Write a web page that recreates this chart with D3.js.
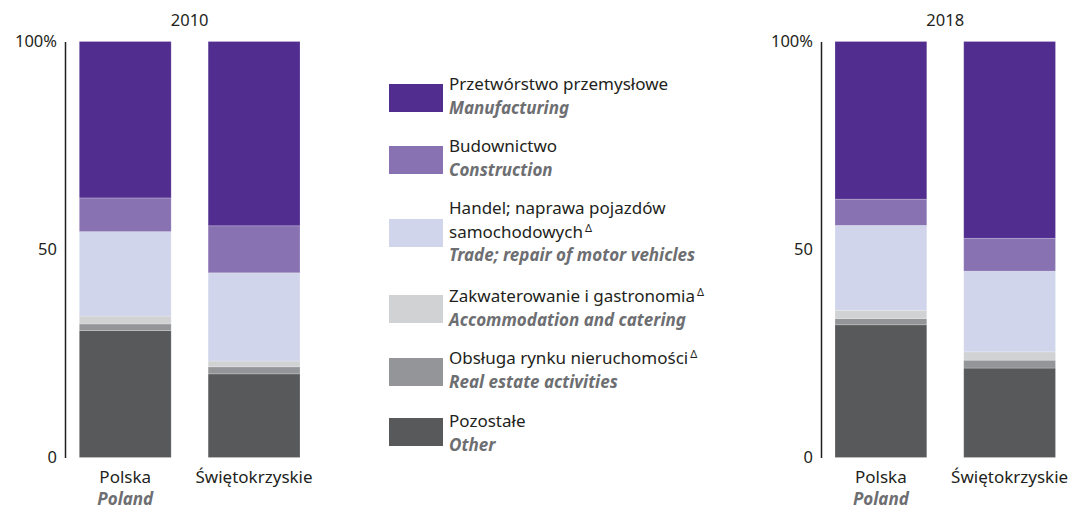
<!DOCTYPE html>
<html>
<head>
<meta charset="utf-8">
<script src="https://cdn.jsdelivr.net/npm/d3@7"></script>
<style>
  body { margin: 0; background: #fff; }
  text { font-family: "Noto Sans", sans-serif; }
</style>
</head>
<body>
<svg id="chart" width="1072" height="509"></svg>
<script>
// series keys, bottom to top
const keys = ["other", "realEstate", "accommodation", "trade", "construction", "manufacturing"];
const colors = ["#58595b", "#939598", "#d1d2d3", "#d0d5eb", "#8872b2", "#512d8f"];

const regions = ["Polska", "Świętokrzyskie"];
const regionsEn = ["Poland", ""];

// percentage shares
const other         = {2010: [30.5, 20.1], 2018: [31.9, 21.5]};
const realEstate    = {2010: [1.6, 1.7],   2018: [1.5, 1.9]};
const accommodation = {2010: [1.9, 1.4],   2018: [2.0, 2.0]};
const trade         = {2010: [20.3, 21.2], 2018: [20.4, 19.4]};
const construction  = {2010: [8.1, 11.3],  2018: [6.3, 7.9]};
const manufacturing = {2010: [37.6, 44.3], 2018: [37.9, 47.3]};
const years = [2010, 2018];

const yTicks = [0, 50, 100];

// legend, top to bottom
const legendPl = [
    ["Przetwórstwo przemysłowe"],
    ["Budownictwo"],
    ["Handel; naprawa pojazdów", "samochodowych"],
    ["Zakwaterowanie i gastronomia"],
    ["Obsługa rynku nieruchomości"],
    ["Pozostałe"]
];
const legendEn = ["Manufacturing", "Construction", "Trade; repair of motor vehicles",
    "Accommodation and catering", "Real estate activities", "Other"];
const legendDelta = [false, false, true, true, true, false];
const legendKeys = ["manufacturing", "construction", "trade", "accommodation", "realEstate", "other"];

const series = {other, realEstate, accommodation, trade, construction, manufacturing};

let svg = d3.select("#chart");

let y = d3.scaleLinear().domain([0, 100]).range([457.5, 41.5]);
let z = d3.scaleOrdinal().domain(keys).range(colors);

const panels = [
    {year: 2010, axisX: 65, x0: 79.3, x1: 300},
    {year: 2018, axisX: 821, x0: 835, x1: 1055.5}
];

panels.forEach(function (p) {
    let data = regions.map(function (r, i) {
        let row = {region: r, en: regionsEn[i]};
        keys.forEach(k => row[k] = series[k][p.year][i]);
        return row;
    });

    let x = d3.scaleBand()
        .domain(regions)
        .range([p.x0, p.x1])
        .paddingInner(0.287)
        .paddingOuter(0);

    let g = svg.append("g");

    g.selectAll("g.layer")
        .data(d3.stack().keys(keys)(data))
        .enter().append("g")
        .attr("class", "layer")
        .attr("fill", d => z(d.key))
        .selectAll("rect")
        .data(d => d)
        .enter().append("rect")
        .attr("x", d => x(d.data.region))
        .attr("width", x.bandwidth())
        .attr("y", d => y(d[1]))
        .attr("height", d => y(d[0]) - y(d[1]))
        .attr("stroke", "#ffffff")
        .attr("stroke-opacity", 0.25)
        .attr("stroke-width", 0.8);

    // axis
    let axis = g.append("g")
        .attr("transform", `translate(${p.axisX},0)`)
        .call(d3.axisLeft(y).tickValues(yTicks).tickSize(0).tickPadding(8)
            .tickFormat(d => d === 100 ? "100%" : d));
    axis.select(".domain").attr("stroke", "#231f20").attr("stroke-width", 1.5);
    axis.selectAll(".tick text")
        .style("font-family", "'Noto Sans', sans-serif")
        .style("font-size", "16.5px")
        .attr("fill", "#231f20");

    // title
    g.append("text")
        .attr("x", (x(regions[0]) + x(regions[1]) + x.bandwidth()) / 2)
        .attr("y", 26)
        .attr("text-anchor", "middle")
        .style("font-size", "16.5px")
        .attr("fill", "#231f20")
        .text(p.year);

    // category labels
    data.forEach(function (d) {
        let cx = x(d.region) + x.bandwidth() / 2;
        g.append("text")
            .attr("x", cx).attr("y", 483)
            .attr("text-anchor", "middle")
            .style("font-size", "17px")
            .attr("fill", "#231f20")
            .text(d.region);
        if (d.en) {
            g.append("text")
                .attr("x", cx).attr("y", 505)
                .attr("text-anchor", "middle")
                .style("font-size", "17px")
                .style("font-style", "italic")
                .style("font-weight", "bold")
                .attr("fill", "#6d6e71")
                .text(d.en);
        }
    });
});

// legend
const swatchTops = [84, 146, 219, 295, 358, 418];
const textFirst = [90, 152, 214, 302, 364, 427];

legendKeys.forEach(function (k, i) {
    let lg = svg.append("g");
    lg.append("rect")
        .attr("x", 389).attr("y", swatchTops[i])
        .attr("width", 54).attr("height", 28)
        .attr("fill", z(k));

    let lines = legendPl[i];
    lines.forEach(function (line, j) {
        let t = lg.append("text")
            .attr("x", 449)
            .attr("y", textFirst[i] + j * 23.5)
            .style("font-size", "17px")
            .attr("fill", "#231f20")
            .text(line);
        if (legendDelta[i] && j === lines.length - 1) {
            t.append("tspan")
                .attr("dx", 2)
                .attr("dy", -6)
                .style("font-size", "11px")
                .text("Δ");
        }
    });

    lg.append("text")
        .attr("x", 449)
        .attr("y", textFirst[i] + lines.length * 23.5)
        .style("font-size", "17px")
        .style("font-style", "italic")
        .style("font-weight", "bold")
        .attr("fill", "#6d6e71")
        .text(legendEn[i]);
});
</script>
</body>
</html>
